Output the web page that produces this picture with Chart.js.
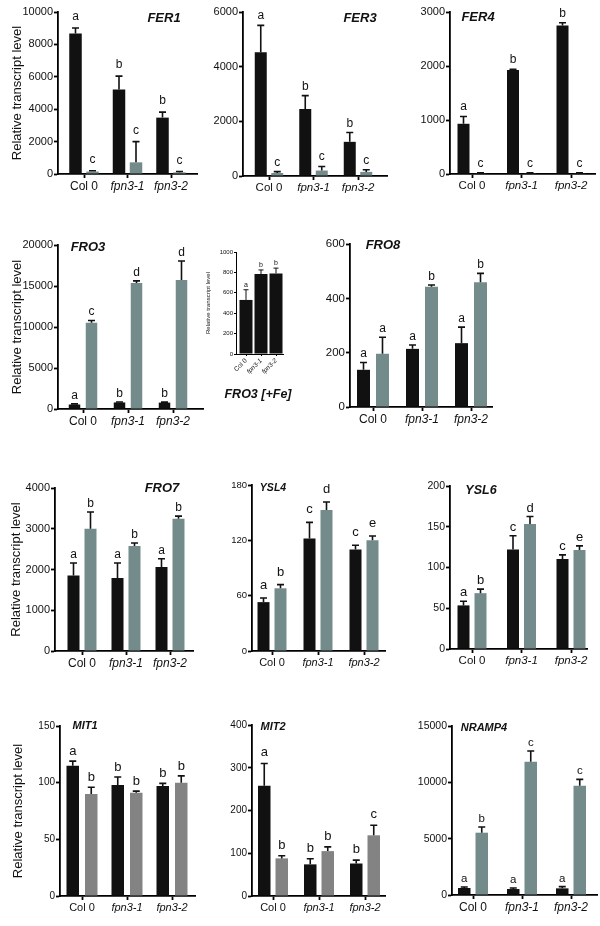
<!DOCTYPE html>
<html>
<head>
<meta charset="utf-8">
<script src="https://cdn.jsdelivr.net/npm/chart.js@4.4.1/dist/chart.umd.min.js"></script>
<style>
  html, body { margin: 0; padding: 0; background: #fff; }
  body { position: relative; width: 600px; height: 926px; overflow: hidden; }
  canvas { position: absolute; }
</style>
</head>
<body>
<script>
// ---- data ----
const groups = ['Col 0', 'fpn3-1', 'fpn3-2'];

const fer1Dark = [8680, 5220, 3480];
const fer1DarkErr = [330, 820, 340];
const fer1Grey = [150, 720, 100];
const fer1GreyErr = [50, 1280, 50];
const fer1DarkLetters = ['a', 'b', 'b'];
const fer1GreyLetters = ['c', 'c', 'c'];

const fer3Dark = [4530, 2450, 1250];
const fer3DarkErr = [980, 490, 340];
const fer3Grey = [110, 200, 150];
const fer3GreyErr = [50, 150, 80];
const fer3DarkLetters = ['a', 'b', 'b'];
const fer3GreyLetters = ['c', 'c', 'c'];

const fer4Dark = [930, 1925, 2750];
const fer4DarkErr = [135, 15, 50];
const fer4Grey = [12, 12, 12];
const fer4GreyErr = [10, 10, 10];
const fer4DarkLetters = ['a', 'b', 'b'];
const fer4GreyLetters = ['c', 'c', 'c'];

const fro3Dark = [550, 800, 780];
const fro3DarkErr = [80, 60, 60];
const fro3Grey = [10520, 15380, 15740];
const fro3GreyErr = [280, 250, 2300];
const fro3DarkLetters = ['a', 'b', 'b'];
const fro3GreyLetters = ['c', 'd', 'd'];

const fro3FeDark = [530, 784, 790];
const fro3FeDarkErr = [100, 40, 52];
const fro3FeLetters = ['a', 'b', 'b'];

const fro8Dark = [137, 214, 235];
const fro8DarkErr = [27, 14, 59];
const fro8Grey = [196, 443, 459];
const fro8GreyErr = [61, 6, 33];
const fro8DarkLetters = ['a', 'a', 'a'];
const fro8GreyLetters = ['a', 'b', 'b'];

const fro7Dark = [1850, 1790, 2060];
const fro7DarkErr = [310, 370, 205];
const fro7Grey = [3000, 2575, 3245];
const fro7GreyErr = [410, 75, 65];
const fro7DarkLetters = ['a', 'a', 'a'];
const fro7GreyLetters = ['b', 'b', 'b'];

const ysl4Dark = [53, 122, 110];
const ysl4DarkErr = [4.5, 17.5, 4.7];
const ysl4Grey = [68, 153, 120];
const ysl4GreyErr = [4, 8.6, 4.7];
const ysl4DarkLetters = ['a', 'c', 'c'];
const ysl4GreyLetters = ['b', 'd', 'e'];

const ysl6Dark = [53.5, 122, 110.5];
const ysl6DarkErr = [5, 17, 5];
const ysl6Grey = [68.5, 153.5, 121.5];
const ysl6GreyErr = [5, 9, 5];
const ysl6DarkLetters = ['a', 'c', 'c'];
const ysl6GreyLetters = ['b', 'd', 'e'];

const mit1Dark = [115, 98, 97];
const mit1DarkErr = [4, 7, 2.4];
const mit1Grey = [90, 91, 100];
const mit1GreyErr = [6, 1.5, 6];
const mit1DarkLetters = ['a', 'b', 'b'];
const mit1GreyLetters = ['b', 'b', 'b'];

const mit2Dark = [258, 74, 76];
const mit2DarkErr = [52, 13, 8];
const mit2Grey = [88, 105, 142];
const mit2GreyErr = [6, 10, 23.5];
const mit2DarkLetters = ['a', 'b', 'b'];
const mit2GreyLetters = ['b', 'b', 'c'];

const nramp4Dark = [620, 530, 590];
const nramp4DarkErr = [90, 90, 150];
const nramp4Grey = [5530, 11830, 9700];
const nramp4GreyErr = [500, 950, 560];
const nramp4DarkLetters = ['a', 'a', 'a'];
const nramp4GreyLetters = ['b', 'c', 'c'];

// ---- styling ----
const FAMILY = '"Liberation Sans", Arial, Helvetica, sans-serif';
const DARK = '#111111';
const TEAL = '#748b8b';
const GREY = '#838383';
const Y_TITLE = 'Relative transcript level';

function pair(dark, darkErr, darkLet, grey, greyErr, greyLet, greyColor) {
    return [
        { values: dark, errors: darkErr, letters: darkLet, color: DARK },
        { values: grey, errors: greyErr, letters: greyLet, color: greyColor },
    ];
}

// plot box of each panel on the page: L/R = x axis ends, T = y of top tick, B = y of zero
const panels = [
    { gene: 'FER1', series: pair(fer1Dark, fer1DarkErr, fer1DarkLetters, fer1Grey, fer1GreyErr, fer1GreyLetters, TEAL),
      L: 58, R: 197, T: 12, B: 174, c0: 84, c2: 171, ymax: 10000, step: 2000, bar: 12.5, gap: 4.5,
      yTitle: 17, gx: 164, gy: 18, geneSize: 13, tick: 11, cat: 12, letter: 12, lgap: 8 },
    { gene: 'FER3', series: pair(fer3Dark, fer3DarkErr, fer3DarkLetters, fer3Grey, fer3GreyErr, fer3GreyLetters, TEAL),
      L: 243, R: 387, T: 12, B: 176, c0: 269, c2: 358, ymax: 6000, step: 2000, bar: 12, gap: 4.5,
      gx: 360, gy: 18, geneSize: 13, tick: 11, cat: 11.5, letter: 12, lgap: 6 },
    { gene: 'FER4', series: pair(fer4Dark, fer4DarkErr, fer4DarkLetters, fer4Grey, fer4GreyErr, fer4GreyLetters, TEAL),
      L: 450, R: 595, T: 12, B: 174, c0: 472, c2: 571, ymax: 3000, step: 1000, bar: 12, gap: 5,
      gx: 478, gy: 17, geneSize: 13, tick: 11, cat: 11.5, letter: 12, lgap: 6 },
    { gene: 'FRO3', series: pair(fro3Dark, fro3DarkErr, fro3DarkLetters, fro3Grey, fro3GreyErr, fro3GreyLetters, TEAL),
      L: 58, R: 203, T: 245, B: 409, c0: 83, c2: 173, ymax: 20000, step: 5000, bar: 11.5, gap: 5.5,
      yTitle: 17, gx: 88, gy: 247, geneSize: 13, tick: 11, cat: 12, letter: 12, lgap: 5 },
    { gene: 'FRO3 [+Fe]', series: [{ values: fro3FeDark, errors: fro3FeDarkErr, letters: fro3FeLetters, color: DARK }],
      L: 236, R: 283, T: 252, B: 354, c0: 246, c2: 276, ymax: 1000, step: 200, bar: 13, gap: 2,
      yTitle: 208, yW: 32, gx: 258, gy: 395, geneSize: 12.5, tick: 6, cat: 6.5, letter: 7, lgap: 3,
      inset: true, bottom: 404, xH: 22, padR: 24 },
    { gene: 'FRO8', series: pair(fro8Dark, fro8DarkErr, fro8DarkLetters, fro8Grey, fro8GreyErr, fro8GreyLetters, TEAL),
      L: 350, R: 492, T: 244, B: 407, c0: 373, c2: 471, ymax: 600, step: 200, bar: 13, gap: 6,
      gx: 383, gy: 245, geneSize: 13, tick: 11.5, cat: 12, letter: 12, lgap: 5 },
    { gene: 'FRO7', series: pair(fro7Dark, fro7DarkErr, fro7DarkLetters, fro7Grey, fro7GreyErr, fro7GreyLetters, TEAL),
      L: 55, R: 193, T: 488, B: 651, c0: 82, c2: 170, ymax: 4000, step: 1000, bar: 12, gap: 5,
      yTitle: 16, gx: 162, gy: 488, geneSize: 13, tick: 11, cat: 12, letter: 12, lgap: 5 },
    { gene: 'YSL4', series: pair(ysl4Dark, ysl4DarkErr, ysl4DarkLetters, ysl4Grey, ysl4GreyErr, ysl4GreyLetters, TEAL),
      L: 252, R: 385, T: 485, B: 651, c0: 272, c2: 364, ymax: 180, step: 60, bar: 12, gap: 5,
      gx: 273, gy: 488, geneSize: 10.5, tick: 9.5, cat: 11, letter: 13, lgap: 9 },
    { gene: 'YSL6', series: pair(ysl6Dark, ysl6DarkErr, ysl6DarkLetters, ysl6Grey, ysl6GreyErr, ysl6GreyLetters, TEAL),
      L: 450, R: 587, T: 486, B: 649, c0: 472, c2: 571, ymax: 200, step: 50, bar: 12, gap: 5,
      gx: 481, gy: 491, geneSize: 12.5, tick: 10.5, cat: 11.5, letter: 13, lgap: 5 },
    { gene: 'MIT1', series: pair(mit1Dark, mit1DarkErr, mit1DarkLetters, mit1Grey, mit1GreyErr, mit1GreyLetters, GREY),
      L: 60, R: 195, T: 726, B: 896, c0: 82, c2: 172, ymax: 150, step: 50, bar: 12.5, gap: 6,
      yTitle: 18, gx: 85, gy: 726, geneSize: 11, tick: 10, cat: 11, letter: 13, lgap: 6 },
    { gene: 'MIT2', series: pair(mit2Dark, mit2DarkErr, mit2DarkLetters, mit2Grey, mit2GreyErr, mit2GreyLetters, GREY),
      L: 252, R: 385, T: 725, B: 896, c0: 273, c2: 365, ymax: 400, step: 100, bar: 12.5, gap: 5,
      gx: 273, gy: 727, geneSize: 11, tick: 10, cat: 11, letter: 13, lgap: 7 },
    { gene: 'NRAMP4', series: pair(nramp4Dark, nramp4DarkErr, nramp4DarkLetters, nramp4Grey, nramp4GreyErr, nramp4GreyLetters, TEAL),
      L: 452, R: 597, T: 726, B: 895, c0: 473, c2: 571, ymax: 15000, step: 5000, bar: 12.5, gap: 5,
      gx: 484, gy: 728, geneSize: 11, tick: 10.5, cat: 12, letter: 11.5, lgap: 5 },
];

// error bars, significance letters and the gene name
const marks = {
    id: 'marks',
    afterDatasetsDraw(chart, args, opts) {
        const { ctx } = chart;
        const yScale = chart.scales.y;
        chart.data.datasets.forEach((ds, i) => {
            chart.getDatasetMeta(i).data.forEach((bar, j) => {
                const top = yScale.getPixelForValue(ds.data[j].y + ds.errors[j]);
                ctx.save();
                ctx.strokeStyle = '#111';
                ctx.lineWidth = opts.errWidth;
                ctx.beginPath();
                ctx.moveTo(bar.x, bar.y);
                ctx.lineTo(bar.x, top);
                ctx.moveTo(bar.x - opts.cap / 2, top);
                ctx.lineTo(bar.x + opts.cap / 2, top);
                ctx.stroke();
                ctx.fillStyle = '#111';
                ctx.font = `${opts.letter}px ${FAMILY}`;
                ctx.textAlign = 'center';
                ctx.textBaseline = 'alphabetic';
                ctx.fillText(ds.letters[j], bar.x, top - opts.lgap);
                ctx.restore();
            });
        });
        ctx.save();
        ctx.fillStyle = '#111';
        ctx.font = `italic bold ${opts.geneSize}px ${FAMILY}`;
        ctx.textAlign = 'center';
        ctx.textBaseline = 'middle';
        ctx.fillText(opts.gene, opts.gx, opts.gy);
        ctx.restore();
    }
};

function drawPanel(p) {
    const padT = 12;
    const padR = p.padR || 4;
    const yW = p.yW || (p.yTitle ? p.L : 40);
    const xH = p.xH || 20;
    const cx = p.L - yW;
    const cy = p.T - padT;
    const cw = p.R + padR - cx;
    const ch = (p.bottom || p.B + xH + 4) - cy;
    const canvas = document.createElement('canvas');
    canvas.width = cw;
    canvas.height = ch;
    canvas.style.left = cx + 'px';
    canvas.style.top = cy + 'px';
    document.body.appendChild(canvas);

    const sp = (p.c2 - p.c0) / 2;
    const n = p.series.length;
    const titleSize = p.inset ? 6 : 13;
    const axisW = p.inset ? 1 : 1.8;

    new Chart(canvas, {
        type: 'bar',
        data: {
            datasets: p.series.map((s) => ({
                data: s.values.map((v, i) => ({ x: i, y: v })),
                errors: s.errors,
                letters: s.letters,
                backgroundColor: s.color,
                borderWidth: 0,
                categoryPercentage: n * (p.bar + p.gap) / sp,
                barPercentage: p.bar / (p.bar + p.gap),
            })),
        },
        options: {
            responsive: false,
            animation: false,
            layout: { padding: { left: 0, top: padT, right: padR, bottom: ch - (p.B - cy) - xH } },
            plugins: {
                legend: { display: false },
                tooltip: { enabled: false },
                marks: {
                    gene: p.gene, gx: p.gx - cx, gy: p.gy - cy, geneSize: p.geneSize,
                    letter: p.letter, lgap: p.lgap,
                    cap: p.inset ? 5 : 7, errWidth: p.inset ? 1 : 1.6,
                },
            },
            scales: {
                x: {
                    type: 'linear',
                    bounds: 'data',
                    offset: false,
                    min: -(p.c0 - p.L) / sp,
                    max: 2 + (p.R - p.c2) / sp,
                    afterBuildTicks: (s) => { s.ticks = groups.map((g, i) => ({ value: i })); },
                    afterFit: (s) => { s.height = xH; },
                    border: { color: '#000', width: axisW },
                    grid: { offset: false, drawOnChartArea: false, drawTicks: true,
                            tickLength: p.inset ? 2 : 4, tickWidth: axisW, tickColor: '#000' },
                    ticks: {
                        autoSkip: false,
                        padding: 1,
                        color: '#111',
                        minRotation: p.inset ? 45 : 0,
                        maxRotation: p.inset ? 45 : 0,
                        callback: (v) => groups[v],
                        font: (c) => ({ family: FAMILY, size: p.cat, style: c.index === 0 ? 'normal' : 'italic' }),
                    },
                },
                y: {
                    min: 0,
                    max: p.ymax,
                    afterFit: (s) => { s.width = yW; },
                    border: { color: '#000', width: axisW },
                    grid: { drawOnChartArea: false, drawTicks: true,
                            tickLength: p.inset ? 2 : 4, tickWidth: axisW, tickColor: '#000' },
                    ticks: {
                        stepSize: p.step,
                        padding: 1,
                        color: '#111',
                        callback: (v) => String(v),
                        font: { family: FAMILY, size: p.tick },
                    },
                    title: {
                        display: !!p.yTitle,
                        text: Y_TITLE,
                        color: '#111',
                        font: { family: FAMILY, size: titleSize },
                        padding: { top: p.yTitle ? p.yTitle - cx - titleSize * 0.6 : 0, bottom: 0 },
                    },
                },
            },
        },
        plugins: [marks],
    });
}

panels.forEach(drawPanel);
</script>
</body>
</html>
